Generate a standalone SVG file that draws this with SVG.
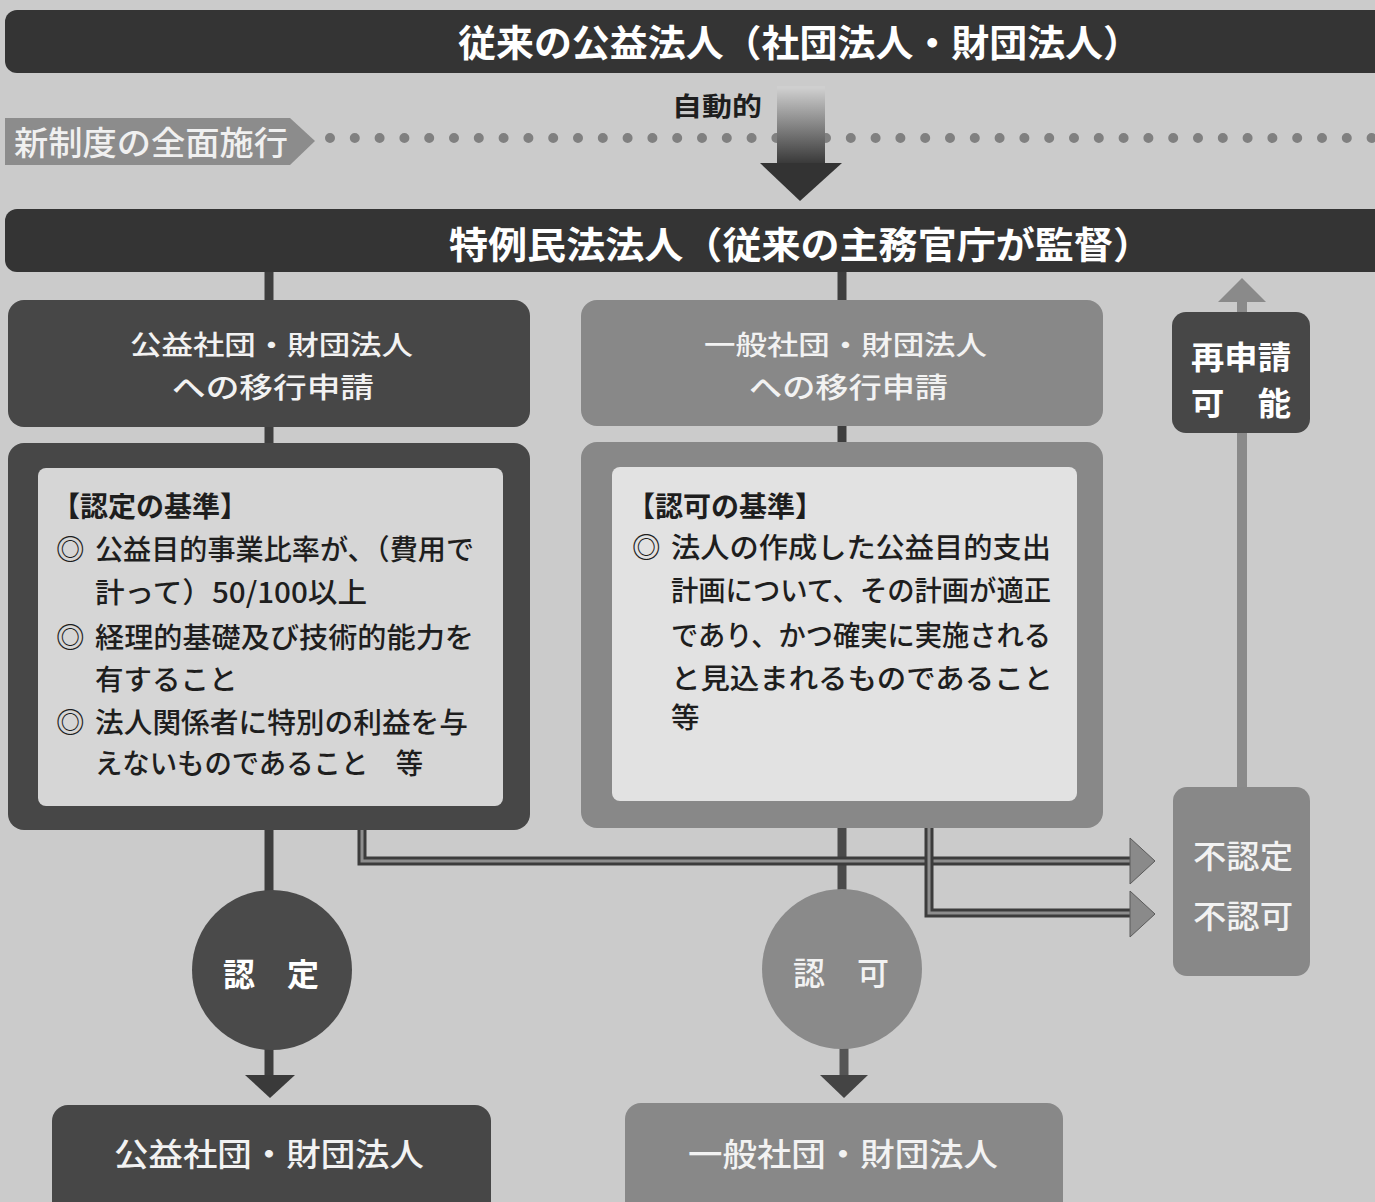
<svg xmlns="http://www.w3.org/2000/svg" width="1375" height="1202" viewBox="0 0 1375 1202">
<defs>
<style>
text{font-family:"Noto Sans CJK JP","Noto Sans CJK SC",sans-serif}
.bar{fill:#343434}
.dark{fill:#474747}
.mid{fill:#888888}
.tw{fill:#ffffff;font-weight:bold}
.tl{fill:#f2f2f2;font-weight:500}
.tb{fill:#1e1e1e;font-size:28.5px;font-weight:500}
.th{fill:#1e1e1e;font-size:28px;font-weight:bold}
.conn{stroke:#3e3e3e;stroke-width:9;fill:none}
.rej-o{stroke:#3c3c3c;stroke-width:9;fill:none}
.rej-i{stroke:#8e8e8e;stroke-width:3;fill:none}
</style>
<linearGradient id="g" x1="0" y1="88" x2="0" y2="165" gradientUnits="userSpaceOnUse">
<stop offset="0" stop-color="#cfcfcf"/>
<stop offset="1" stop-color="#363636"/>
</linearGradient>
</defs>
<rect x="0" y="0" width="1375" height="1202" fill="#cbcbcb"/>

<g id="connectors">
<line x1="330" y1="138" x2="1372" y2="138" stroke="#808080" stroke-width="10" stroke-linecap="round" stroke-dasharray="0 24.8"/>
<line class="conn" x1="269" y1="270" x2="269" y2="302"/>
<line class="conn" x1="269" y1="425" x2="269" y2="445"/>
<line class="conn" x1="269" y1="828" x2="269" y2="892"/>
<line class="conn" x1="269" y1="1048" x2="269" y2="1077"/>
<polygon points="245,1075 295,1075 270,1098" fill="#3a3a3a"/>
<line class="conn" x1="842" y1="270" x2="842" y2="302"/>
<line class="conn" x1="842" y1="424" x2="842" y2="444"/>
<line x1="842" y1="826" x2="842" y2="892" stroke="#4a4a4a" stroke-width="9"/>
<line x1="844" y1="1046" x2="844" y2="1077" stroke="#555" stroke-width="9"/>
<polygon points="820,1075 868,1075 844,1098" fill="#444"/>
<path class="rej-o" d="M362 828 V861 H1133"/>
<path class="rej-i" d="M362 828 V861 H1133"/>
<path class="rej-o" d="M929 826 V913 H1133"/>
<path class="rej-i" d="M929 826 V913 H1133"/>
<polygon points="1130,838 1155,861 1130,884" fill="#8a8a8a" stroke="#5a5a5a" stroke-width="1"/>
<polygon points="1130,891 1155,914 1130,937" fill="#8a8a8a" stroke="#5a5a5a" stroke-width="1"/>
<line x1="1242" y1="790" x2="1242" y2="300" stroke="#8a8a8a" stroke-width="10"/>
<polygon points="1218,302 1266,302 1242,278" fill="#8a8a8a"/>
<rect x="777" y="86" width="48" height="79" fill="url(#g)"/>
<polygon points="760,163 842,163 800,201" fill="#333"/>
</g>

<g id="top-bar">
<rect class="bar" x="5" y="10" width="1390" height="63" rx="12"/>
<text class="tw" x="458" y="57" font-size="37" textLength="683" lengthAdjust="spacingAndGlyphs">従来の公益法人（社団法人・財団法人）</text>
</g>

<g id="label-auto">
<text x="672" y="116" font-size="26" font-weight="bold" fill="#1e1e1e" textLength="90" lengthAdjust="spacingAndGlyphs">自動的</text>
</g>

<g id="banner">
<polygon points="5,118 290,118 315,141 290,165 5,165" fill="#8c8c8c"/>
<text x="14" y="155" font-size="33" fill="#f0f0f0" font-weight="500" textLength="274" lengthAdjust="spacingAndGlyphs">新制度の全面施行</text>
</g>

<g id="special-bar">
<rect class="bar" x="5" y="209" width="1390" height="63" rx="12"/>
<text class="tw" x="449" y="259" font-size="37" textLength="703" lengthAdjust="spacingAndGlyphs">特例民法法人（従来の主務官庁が監督）</text>
</g>

<g id="apply-public">
<rect class="dark" x="8" y="300" width="522" height="127" rx="16"/>
<text class="tl" x="271.5" y="355" font-size="27" text-anchor="middle" textLength="283" lengthAdjust="spacingAndGlyphs">公益社団・財団法人</text>
<text class="tl" x="273" y="398" font-size="28" text-anchor="middle" textLength="202" lengthAdjust="spacingAndGlyphs">への移行申請</text>
</g>

<g id="criteria-public">
<rect class="dark" x="8" y="443" width="522" height="387" rx="16"/>
<rect x="38" y="468" width="465" height="338" rx="8" fill="#d6d6d6"/>
<text class="th" x="52" y="517">【認定の基準】</text>
<text class="tb" x="56" y="560">◎</text>
<text class="tb" x="95" y="560" textLength="379" lengthAdjust="spacingAndGlyphs">公益目的事業比率が、（費用で</text>
<text class="tb" x="95" y="603" textLength="272" lengthAdjust="spacingAndGlyphs">計って）50/100以上</text>
<text class="tb" x="56" y="648">◎</text>
<text class="tb" x="95" y="648" textLength="379" lengthAdjust="spacingAndGlyphs">経理的基礎及び技術的能力を</text>
<text class="tb" x="95" y="690">有すること</text>
<text class="tb" x="56" y="733">◎</text>
<text class="tb" x="95" y="733" textLength="373" lengthAdjust="spacingAndGlyphs">法人関係者に特別の利益を与</text>
<text class="tb" x="95" y="774" textLength="328" lengthAdjust="spacingAndGlyphs">えないものであること　等</text>
</g>

<g id="apply-general">
<rect class="mid" x="581" y="300" width="522" height="126" rx="16"/>
<text class="tl" x="845.5" y="355" font-size="27" text-anchor="middle" textLength="283" lengthAdjust="spacingAndGlyphs">一般社団・財団法人</text>
<text class="tl" x="848.5" y="398" font-size="28" text-anchor="middle" textLength="199" lengthAdjust="spacingAndGlyphs">への移行申請</text>
</g>

<g id="criteria-general">
<rect class="mid" x="581" y="442" width="522" height="386" rx="16"/>
<rect x="612" y="467" width="465" height="334" rx="8" fill="#e2e2e2"/>
<text class="th" x="627" y="517">【認可の基準】</text>
<text class="tb" x="632" y="558">◎</text>
<text class="tb" x="671" y="558" textLength="380" lengthAdjust="spacingAndGlyphs">法人の作成した公益目的支出</text>
<text class="tb" x="671" y="601" textLength="380" lengthAdjust="spacingAndGlyphs">計画について、その計画が適正</text>
<text class="tb" x="671" y="646" textLength="380" lengthAdjust="spacingAndGlyphs">であり、かつ確実に実施される</text>
<text class="tb" x="671" y="689" textLength="382" lengthAdjust="spacingAndGlyphs">と見込まれるものであること</text>
<text class="tb" x="671" y="728">等</text>
</g>

<g id="reapply">
<rect class="dark" x="1172" y="312" width="138" height="121" rx="14"/>
<text class="tw" x="1241" y="369" font-size="32" text-anchor="middle" textLength="100" lengthAdjust="spacingAndGlyphs">再申請</text>
<text class="tw" x="1241" y="415" font-size="32" text-anchor="middle" textLength="100" lengthAdjust="spacingAndGlyphs">可　能</text>
</g>

<g id="rejected">
<rect class="mid" x="1173" y="787" width="137" height="189" rx="14"/>
<text class="tl" x="1243" y="868" font-size="32" text-anchor="middle" textLength="100" lengthAdjust="spacingAndGlyphs">不認定</text>
<text class="tl" x="1243" y="928" font-size="32" text-anchor="middle" textLength="100" lengthAdjust="spacingAndGlyphs">不認可</text>
</g>

<g id="certified">
<circle cx="272" cy="970" r="80" fill="#4a4a4a"/>
<text class="tw" x="271" y="986" font-size="32" text-anchor="middle">認　定</text>
</g>

<g id="approved">
<circle cx="842" cy="969" r="80" fill="#8a8a8a"/>
<text class="tl" x="841" y="985" font-size="32" text-anchor="middle" font-weight="bold">認　可</text>
</g>

<g id="public-corp">
<rect class="dark" x="52" y="1105" width="439" height="115" rx="16"/>
<text class="tl" x="269" y="1166" font-size="32" text-anchor="middle" textLength="310" lengthAdjust="spacingAndGlyphs">公益社団・財団法人</text>
</g>

<g id="general-corp">
<rect class="mid" x="625" y="1103" width="438" height="115" rx="16"/>
<text class="tl" x="843" y="1166" font-size="32" text-anchor="middle" textLength="310" lengthAdjust="spacingAndGlyphs">一般社団・財団法人</text>
</g>
</svg>
